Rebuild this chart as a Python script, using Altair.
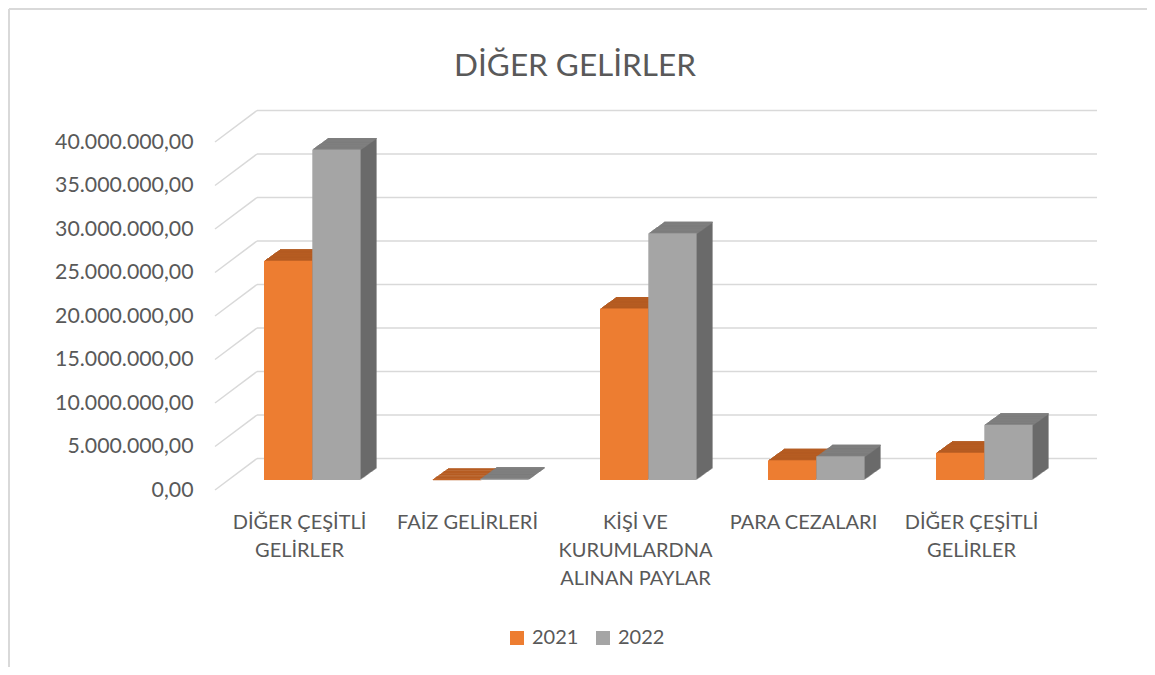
import json
import altair as alt
import pandas as pd

# ---------------- data ----------------
categories = [
    "DİĞER ÇEŞİTLİ GELİRLER",
    "FAİZ GELİRLERİ",
    "KİŞİ VE KURUMLARDNA ALINAN PAYLAR",
    "PARA CEZALARI",
    "DİĞER ÇEŞİTLİ GELİRLER",
]
category_lines = [
    ["DİĞER ÇEŞİTLİ", "GELİRLER"],
    ["FAİZ GELİRLERİ"],
    ["KİŞİ VE", "KURUMLARDNA", "ALINAN PAYLAR"],
    ["PARA CEZALARI"],
    ["DİĞER ÇEŞİTLİ", "GELİRLER"],
]
years = ["2021", "2022"]
values_2021 = [25200000, 30000, 19700000, 2260000, 3130000]
values_2022 = [38000000, 150000, 28350000, 2720000, 6340000]
y_ticks = [0, 5000000, 10000000, 15000000, 20000000, 25000000, 30000000, 35000000, 40000000]
y_tick_labels = ["0,00", "5.000.000,00", "10.000.000,00", "15.000.000,00", "20.000.000,00",
                 "25.000.000,00", "30.000.000,00", "35.000.000,00", "40.000.000,00"]

# ---------------- styles ----------------
FONT = "Lato"
TEXT = "#595959"
GRID = "#D9D9D9"
front_colors = {"2021": "#ED7D31", "2022": "#A5A5A5"}
top_colors = {"2021": "#B65C22", "2022": "#7F7F7F"}
side_colors = {"2021": "#A0501C", "2022": "#6B6B6B"}

W, H = 840, 348
WALL_DX, WALL_DY = 42, -31.5      # depth of the back wall
FX, FY = 13.3, -10                # front face of the bars inside the depth
DX, DY = 16, -11.5                # bar depth
N = 16
BW = 0.2875                       # bar width as a fraction of one category step

rows = []
for i, cat in enumerate(categories):
    for yr, vals in zip(years, [values_2021, values_2022]):
        rows.append({"idx": i, "cat": cat, "year": yr, "value": vals[i],
                     "top": top_colors[yr], "side": side_colors[yr]})
df = pd.DataFrame(rows)
grid_df = pd.DataFrame({"value": y_ticks})

yscale = alt.Scale(domain=[0, 40000000], nice=False, zero=True)
xscale = alt.Scale(domain=[0, len(categories)], nice=False, zero=False)

x_label_expr = json.dumps(category_lines, ensure_ascii=False) + "[floor(datum.value)]"
y_label_expr = (json.dumps(y_tick_labels, ensure_ascii=False) + "[indexof("
                + json.dumps(y_ticks) + ", datum.value)]")

X_AXIS = alt.Axis(values=[i + 0.5 for i in range(len(categories))], labelExpr=x_label_expr,
                  labelAngle=0, ticks=False, domain=False, grid=False, labelPadding=22,
                  labelFont=FONT, labelFontSize=20, labelColor=TEXT, labelLineHeight=28,
                  labelBaseline="top", labelAlign="center", labelOverlap=False,
                  labelFlush=False, labelLimit=300)
Y_AXIS = alt.Axis(values=y_ticks, labelExpr=y_label_expr, ticks=False, domain=False,
                  grid=False, labelPadding=22, labelFont=FONT, labelFontSize=21.3,
                  labelColor=TEXT, labelOverlap=False, labelFlush=False)

base = alt.Chart(df).transform_calculate(
    x0=f"datum.idx + 0.5 - (datum.year == '{years[0]}' ? {BW} : 0)"
).transform_calculate(
    x1=f"datum.x0 + {BW}"
)
Xq = alt.X("x0:Q", scale=xscale, axis=X_AXIS, title=None)
X2q = alt.X2("x1")
Yq = alt.Y("value:Q", scale=yscale, axis=Y_AXIS, title=None)

layers = []

# back wall grid lines
layers.append(
    alt.Chart(grid_df).mark_rule(color=GRID, strokeWidth=1.5, yOffset=WALL_DY).encode(
        y=Yq, x=alt.value(WALL_DX), x2=alt.value(W + WALL_DX),
    )
)
# diagonal lines on the side wall
layers.append(
    alt.Chart(grid_df).mark_rule(color=GRID, strokeWidth=1.5, y2Offset=WALL_DY).encode(
        y=Yq, y2=alt.Y2("value"), x=alt.value(0), x2=alt.value(WALL_DX),
    )
)

# side extrusion (back to front)
for k in range(N, 0, -1):
    ox = FX + DX * k / N
    oy = FY + DY * k / N
    layers.append(
        base.mark_bar(xOffset=ox, x2Offset=ox, yOffset=oy, y2Offset=oy).encode(
            x=Xq, x2=X2q, y=Yq, y2=alt.datum(0),
            color=alt.Color("side:N", scale=None),
        )
    )
# top faces (back to front)
for k in range(N, 0, -1):
    ox = FX + DX * k / N
    oy = FY + DY * k / N
    layers.append(
        base.mark_bar(xOffset=ox, x2Offset=ox, yOffset=oy,
                      y2Offset=oy - DY / N + 0.4).encode(
            x=Xq, x2=X2q, y=Yq, y2=alt.Y2("value"),
            color=alt.Color("top:N", scale=None),
        )
    )

# front faces with legend
layers.append(
    base.mark_bar(xOffset=FX, x2Offset=FX, yOffset=FY, y2Offset=FY).encode(
        x=Xq, x2=X2q, y=Yq, y2=alt.datum(0),
        color=alt.Color("year:N",
                        scale=alt.Scale(domain=years, range=[front_colors[y] for y in years]),
                        legend=alt.Legend(title=None, orient="none", legendX=292, legendY=486,
                                          direction="horizontal", symbolType="square",
                                          symbolSize=196, symbolStrokeWidth=0,
                                          labelFont=FONT, labelFontSize=20, labelColor=TEXT,
                                          labelOffset=5, columnPadding=14, padding=0)),
    )
)

# chart frame (left and top edges)
layers.append(
    alt.Chart(grid_df.head(1)).mark_rule(color=GRID, strokeWidth=2).encode(
        x=alt.value(-206), y=alt.value(-133), y2=alt.value(H + 177)
    )
)
layers.append(
    alt.Chart(grid_df.head(1)).mark_rule(color=GRID, strokeWidth=2).encode(
        x=alt.value(-206), x2=alt.value(W + 92), y=alt.value(-133)
    )
)

chart = alt.layer(*layers).properties(
    width=W, height=H,
    padding={"left": 207, "top": 134, "right": 92, "bottom": 177},
    autosize=alt.AutoSizeParams(type="none"),
    background="white",
    title=alt.TitleParams("DİĞER GELİRLER", font=FONT, fontSize=31.5, color=TEXT,
                          fontWeight="normal", anchor="middle", frame="group", dx=-60,
                          offset=-99, baseline="alphabetic"),
).configure_view(stroke=None)

chart.save("out.html", embed_options={"renderer": "svg", "actions": False})
